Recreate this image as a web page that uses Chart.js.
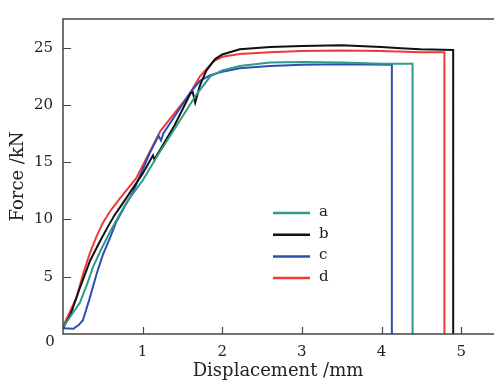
<!DOCTYPE html>
<html>
<head>
<meta charset="utf-8">
<script src="https://cdn.jsdelivr.net/npm/chart.js@4.4.1/dist/chart.umd.min.js"></script>
<style>
  html, body { margin: 0; padding: 0; background: #fff; }
  #wrap { width: 494px; height: 382px; }
</style>
</head>
<body>
<div id="wrap"><canvas id="cvs" width="494" height="382"></canvas></div>
<script>
//-------------------------------------------------------------------
// data (displacement mm / force kN)
//-------------------------------------------------------------------
const seriesLabels = ['a', 'b', 'c', 'd'];
const seriesColors = ['#2f9a8c', '#111111', '#2c4fb5', '#f03a3a'];

const dispA  = [0, 0.1, 0.21, 0.3, 0.38, 0.48, 0.59, 0.7, 0.8, 1.0, 1.18, 1.4, 1.68, 1.85, 2.0, 2.22, 2.6, 3.0, 3.5, 4.0, 4.39, 4.39];
const forceA = [0.6, 1.6, 2.7, 4.3, 5.9, 7.4, 8.9, 10.3, 11.5, 13.4, 15.5, 17.9, 20.95, 22.5, 23.0, 23.4, 23.7, 23.75, 23.7, 23.6, 23.6, 0];

const dispB  = [0, 0.1, 0.2, 0.34, 0.45, 0.55, 0.65, 0.75, 1.0, 1.13, 1.15, 1.17, 1.4, 1.6, 1.63, 1.66, 1.72, 1.8, 1.91, 2.0, 2.22, 2.6, 3.0, 3.5, 4.0, 4.24, 4.49, 4.9, 4.9];
const forceB = [0.5, 1.8, 3.8, 6.4, 7.9, 9.2, 10.4, 11.4, 14.0, 15.6, 15.2, 15.5, 18.2, 21.0, 21.1, 20.2, 21.7, 23.0, 24.0, 24.4, 24.85, 25.05, 25.15, 25.2, 25.05, 24.95, 24.85, 24.8, 0];

const dispC  = [0, 0.13, 0.2, 0.25, 0.33, 0.42, 0.5, 0.59, 0.67, 0.78, 0.88, 1.09, 1.2, 1.23, 1.26, 1.6, 1.72, 1.85, 2.0, 2.22, 2.6, 3.0, 3.5, 4.13, 4.13];
const forceC = [0.5, 0.45, 0.8, 1.2, 3.0, 5.2, 6.9, 8.4, 9.8, 11.2, 12.4, 15.8, 17.3, 16.9, 17.5, 21.1, 22.1, 22.6, 22.9, 23.2, 23.4, 23.5, 23.55, 23.5, 0];

const dispD  = [0, 0.17, 0.25, 0.34, 0.42, 0.5, 0.6, 0.71, 0.92, 1.22, 1.59, 1.72, 1.89, 2.0, 2.22, 2.6, 3.0, 3.5, 4.0, 4.5, 4.79, 4.79];
const forceD = [0.65, 3.2, 5.2, 7.1, 8.5, 9.7, 10.8, 11.8, 13.6, 17.7, 20.95, 22.5, 23.8, 24.2, 24.45, 24.6, 24.7, 24.75, 24.7, 24.6, 24.6, 0];

const xTicks = [1, 2, 3, 4, 5];
const yTicks = [5, 10, 15, 20, 25];
const xMax = 5.4;
const yMax = 27.5;

const xTitle = 'Displacement /mm';
const yTitle = 'Force /kN';
const cornerLabel = '0';

//-------------------------------------------------------------------
// helpers
//-------------------------------------------------------------------
function toPoints(xs, ys) {
  const pts = [];
  for (let i = 0; i < xs.length; i++) {
    pts.push({x: xs[i], y: ys[i]});
  }
  return pts;
}

const serif = '"DejaVu Serif", "Liberation Serif", serif';
const inkColor = '#222';
const axisColor = '#444';

const allX = [dispA, dispB, dispC, dispD];
const allY = [forceA, forceB, forceC, forceD];

const datasets = seriesLabels.map((label, i) => ({
  label: label,
  data: toPoints(allX[i], allY[i]),
  borderColor: seriesColors[i],
  backgroundColor: seriesColors[i],
  borderWidth: 2,
  pointRadius: 0,
  tension: 0,
  fill: false
}));

// frame, inward ticks, corner zero and in-plot legend
const framePlugin = {
  id: 'framePlugin',
  afterDraw(chart) {
    const ctx = chart.ctx;
    const area = chart.chartArea;
    const xs = chart.scales.x;
    const ys = chart.scales.y;

    ctx.save();
    ctx.strokeStyle = axisColor;
    ctx.lineWidth = 1.5;
    ctx.beginPath();
    ctx.moveTo(area.right + 2, area.top);
    ctx.lineTo(area.left, area.top);
    ctx.lineTo(area.left, area.bottom);
    ctx.lineTo(area.right + 2, area.bottom);
    ctx.stroke();

    ctx.lineWidth = 1.2;
    ctx.beginPath();
    xTicks.forEach(v => {
      const px = Math.round(xs.getPixelForValue(v)) + 0.5;
      ctx.moveTo(px, area.bottom);
      ctx.lineTo(px, area.bottom - 7);
    });
    yTicks.forEach(v => {
      const py = Math.round(ys.getPixelForValue(v)) + 0.5;
      ctx.moveTo(area.left, py);
      ctx.lineTo(area.left + 8, py);
    });
    ctx.stroke();

    ctx.fillStyle = inkColor;
    ctx.font = '15px ' + serif;
    ctx.textAlign = 'center';
    ctx.textBaseline = 'middle';
    ctx.fillText(cornerLabel, area.left - 13, area.bottom + 8);

    // legend
    const lx = 273, ly = 213, rowH = 21.7, lineLen = 37;
    chart.data.datasets.forEach((ds, i) => {
      const y = ly + i * rowH;
      ctx.strokeStyle = ds.borderColor;
      ctx.lineWidth = 2.5;
      ctx.beginPath();
      ctx.moveTo(lx, y);
      ctx.lineTo(lx + lineLen, y);
      ctx.stroke();
      ctx.fillStyle = inkColor;
      ctx.textAlign = 'left';
      ctx.fillText(ds.label, lx + lineLen + 9, y - 1);
    });
    ctx.restore();
  }
};

const chart = new Chart(document.getElementById('cvs').getContext('2d'), {
  type: 'line',
  data: { datasets: datasets },
  options: {
    responsive: false,
    animation: false,
    layout: { padding: { top: 13, right: 1, left: 0, bottom: 0 } },
    plugins: {
      legend: { display: false },
      tooltip: { enabled: false },
      title: { display: false }
    },
    scales: {
      x: {
        type: 'linear',
        min: 0,
        max: xMax,
        afterFit: s => { s.height = 48; },
        afterBuildTicks: s => { s.ticks = xTicks.map(v => ({value: v})); },
        grid: { display: false, drawTicks: false },
        border: { display: false },
        ticks: { color: inkColor, font: { family: serif, size: 15 }, padding: 9, maxRotation: 0 },
        title: {
          display: true,
          text: xTitle,
          color: inkColor,
          font: { family: serif, size: 18, lineHeight: 1 },
          padding: { top: 0, bottom: 2 }
        }
      },
      y: {
        type: 'linear',
        min: 0,
        max: yMax,
        afterFit: s => { s.width = 63; },
        afterBuildTicks: s => { s.ticks = yTicks.map(v => ({value: v})); },
        grid: { display: false, drawTicks: false },
        border: { display: false },
        ticks: { color: inkColor, font: { family: serif, size: 15 }, padding: 10 },
        title: {
          display: true,
          text: yTitle,
          color: inkColor,
          font: { family: serif, size: 18, lineHeight: 1 },
          padding: { top: 9.5, bottom: 0 }
        }
      }
    }
  },
  plugins: [framePlugin]
});
</script>
</body>
</html>
